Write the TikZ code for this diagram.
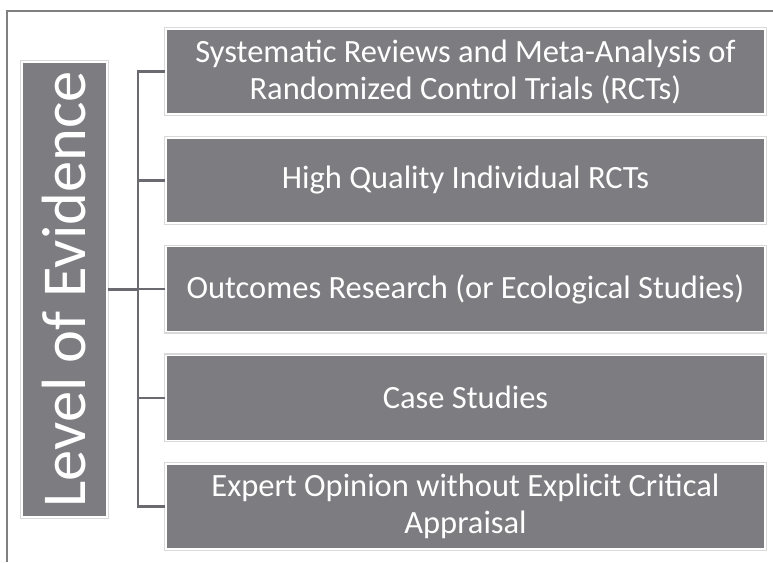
\documentclass[tikz,border=0pt]{standalone}
\usepackage{fontspec}
\setmainfont{Carlito}
\usetikzlibrary{positioning}
\definecolor{boxgray}{RGB}{124,124,129}
\definecolor{linkgray}{RGB}{106,106,112}
\definecolor{framegray}{RGB}{128,128,128}

\begin{document}
\begin{tikzpicture}[x=1pt,y=-1pt,node distance=108.75pt,
                    line width=2.5pt]
  \tikzstyle{tier}=[fill=boxgray,draw=white,line width=1.5pt,
                    preaction={draw=black!15,line width=4pt},
                    text=white,inner sep=0pt,align=center,
                    minimum width=599pt,minimum height=85pt,
                    font=\fontsize{32.5}{37}\selectfont]
  \useasboundingbox (0,0) rectangle (773,562);

  \draw[framegray,line width=1.5pt] (773,11) -- (7,11) -- (7,562);

  \node[tier,rotate=90,minimum width=455pt,minimum height=85pt,
        font=\fontsize{62.5}{70}\selectfont] (lvl) at (64.5,289.5) {Level of Evidence};

  \node[tier] (b1) at (465.5,71.5) {Systematic Reviews and Meta-Analysis of\\Randomized Control Trials (RCTs)};
  \node[tier] (b2) [below of=b1] {High Quality Individual RCTs};
  \node[tier] (b3) [below of=b2] {Outcomes Research (or Ecological Studies)};
  \node[tier] (b4) [below of=b3] {Case Studies};
  \node[tier] (b5) [below of=b4] {Expert Opinion without Explicit Critical\\Appraisal};

  \foreach \k in {1,...,5}
    \draw[linkgray] (lvl.south) -- ++(30,0) |- (b\k.west);
\end{tikzpicture}
\end{document}
